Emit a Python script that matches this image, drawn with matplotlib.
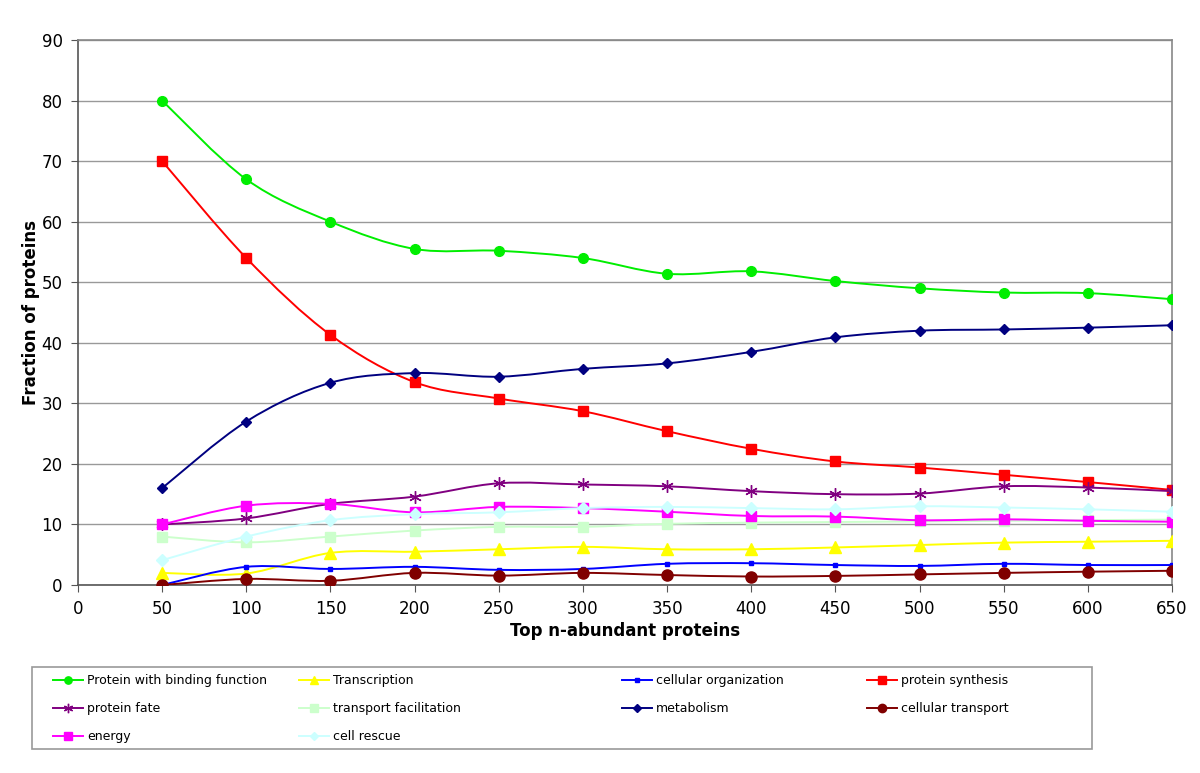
import matplotlib
matplotlib.use("Agg")
import matplotlib.pyplot as plt
from matplotlib.path import Path
from matplotlib.patches import PathPatch, Rectangle
from matplotlib.lines import Line2D

# top n most abundant proteins (x axis)
top_n = [50, 100, 150, 200, 250, 300, 350, 400, 450, 500, 550, 600, 650]

binding = [80, 67, 60, 55.5, 55.2, 54, 51.4, 51.8, 50.2, 49, 48.3, 48.2, 47.2]
transcription = [2.0, 1.9, 5.3, 5.5, 5.9, 6.3, 5.9, 5.9, 6.2, 6.6, 7.0, 7.15, 7.3]
cell_org = [0, 3.0, 2.65, 3.0, 2.5, 2.65, 3.5, 3.6, 3.3, 3.15, 3.5, 3.3, 3.3]
synthesis = [70, 54, 41.3, 33.5, 30.8, 28.7, 25.4, 22.5, 20.4, 19.4, 18.2, 17, 15.7]
fate = [10, 11.0, 13.4, 14.6, 16.8, 16.6, 16.3, 15.5, 15.0, 15.1, 16.3, 16.1, 15.5]
transport_fac = [8.0, 7.05, 8.0, 9.0, 9.6, 9.6, 10.1, 10.3, 10.4, 10.5, 10.6, 10.7, 10.8]
metabolism = [16, 27, 33.4, 35, 34.4, 35.7, 36.6, 38.5, 40.9, 42, 42.2, 42.5, 42.9]
cell_transport = [0, 1.0, 0.7, 2.0, 1.55, 2.0, 1.65, 1.4, 1.5, 1.75, 2.0, 2.2, 2.35]
energy = [10.0, 13.1, 13.4, 12.0, 12.9, 12.7, 12.1, 11.4, 11.3, 10.7, 10.85, 10.6, 10.45]
cell_rescue = [4.1, 8.0, 10.7, 11.7, 12.0, 12.7, 12.9, 12.7, 12.5, 13.0, 12.8, 12.5, 12.1]

series = [
    ("Protein with binding function", binding, "#00ee00", "o", 7, 1.4),
    ("Transcription", transcription, "#ffff00", "^", 8, 1.4),
    ("cellular organization", cell_org, "#0000ff", "s", 3, 1.4),
    ("protein synthesis", synthesis, "#ff0000", "s", 7, 1.4),
    ("protein fate", fate, "#800080", (6, 2, 0), 9, 1.4),
    ("transport facilitation", transport_fac, "#ccffcc", "s", 7, 1.4),
    ("metabolism", metabolism, "#000080", "D", 5, 1.4),
    ("cellular transport", cell_transport, "#800000", "o", 8, 1.4),
    ("energy", energy, "#ff00ff", "s", 7, 1.4),
    ("cell rescue", cell_rescue, "#ccffff", "D", 6, 1.4),
]


def smooth_path(xs, ys):
    # bezier curve through the points, like the spreadsheet "smoothed line"
    pts = list(zip(xs, ys))
    verts = [pts[0]]
    codes = [Path.MOVETO]
    n = len(pts)
    for i in range(n - 1):
        p0 = pts[i - 1] if i > 0 else pts[i]
        p1 = pts[i]
        p2 = pts[i + 1]
        p3 = pts[i + 2] if i + 2 < n else pts[i + 1]
        c1 = (p1[0] + (p2[0] - p0[0]) / 6, p1[1] + (p2[1] - p0[1]) / 6)
        c2 = (p2[0] - (p3[0] - p1[0]) / 6, p2[1] - (p3[1] - p1[1]) / 6)
        verts += [c1, c2, p2]
        codes += [Path.CURVE4] * 3
    return Path(verts, codes)


fig = plt.figure(figsize=(12, 7.73), dpi=100)
ax = fig.add_axes([0.065, 0.2432, 0.9117, 0.7050])

handles = []
for i, (name, vals, color, marker, ms, lw) in enumerate(series):
    ax.add_patch(PathPatch(smooth_path(top_n, vals), fill=False,
                           edgecolor=color, lw=lw, zorder=3 + i * 0.1))
    ax.plot(top_n, vals, linestyle="none", marker=marker, markersize=ms,
            color=color, markeredgecolor=color, zorder=3.05 + i * 0.1)
    handles.append(Line2D([], [], color=color, lw=lw, marker=marker,
                          markersize=ms * 0.75, markeredgecolor=color))

ax.set_xlim(0, 650)
ax.set_ylim(0, 90)
ax.set_xticks(range(0, 651, 50))
ax.set_yticks(range(0, 91, 10))
ax.grid(axis="y", color="#999999", lw=1)
ax.set_axisbelow(True)
for s in ax.spines.values():
    s.set_color("#888888")
    s.set_linewidth(1.2)
ax.spines["left"].set_color("#555555")
ax.spines["bottom"].set_color("#555555")
ax.tick_params(axis="both", labelsize=12, length=5, color="#555555", pad=6)
ax.set_xlabel("Top n-abundant proteins", fontsize=12, fontweight="bold", labelpad=3)
ax.set_ylabel("Fraction of proteins", fontsize=12, fontweight="bold", labelpad=1)

# legend: frame plus one column per legend so columns sit where they do in the original
fig.patches.append(Rectangle((32 / 1200, 1 - 749 / 773), 1060 / 1200, 82 / 773,
                             transform=fig.transFigure, fill=False,
                             edgecolor="#999999", lw=1.2))
col_x = [53, 299, 622, 867]
for c in range(4):
    idx = [k for k in range(c, len(series), 4)]
    fig.legend([handles[k] for k in idx], [series[k][0] for k in idx],
               loc="upper left", bbox_to_anchor=(col_x[c] / 1200, 1 - 674 / 773),
               frameon=False, fontsize=9, handlelength=2.4, handletextpad=0.3,
               labelspacing=1.2, borderaxespad=0, borderpad=0)

fig.savefig("out.png", dpi=100)
